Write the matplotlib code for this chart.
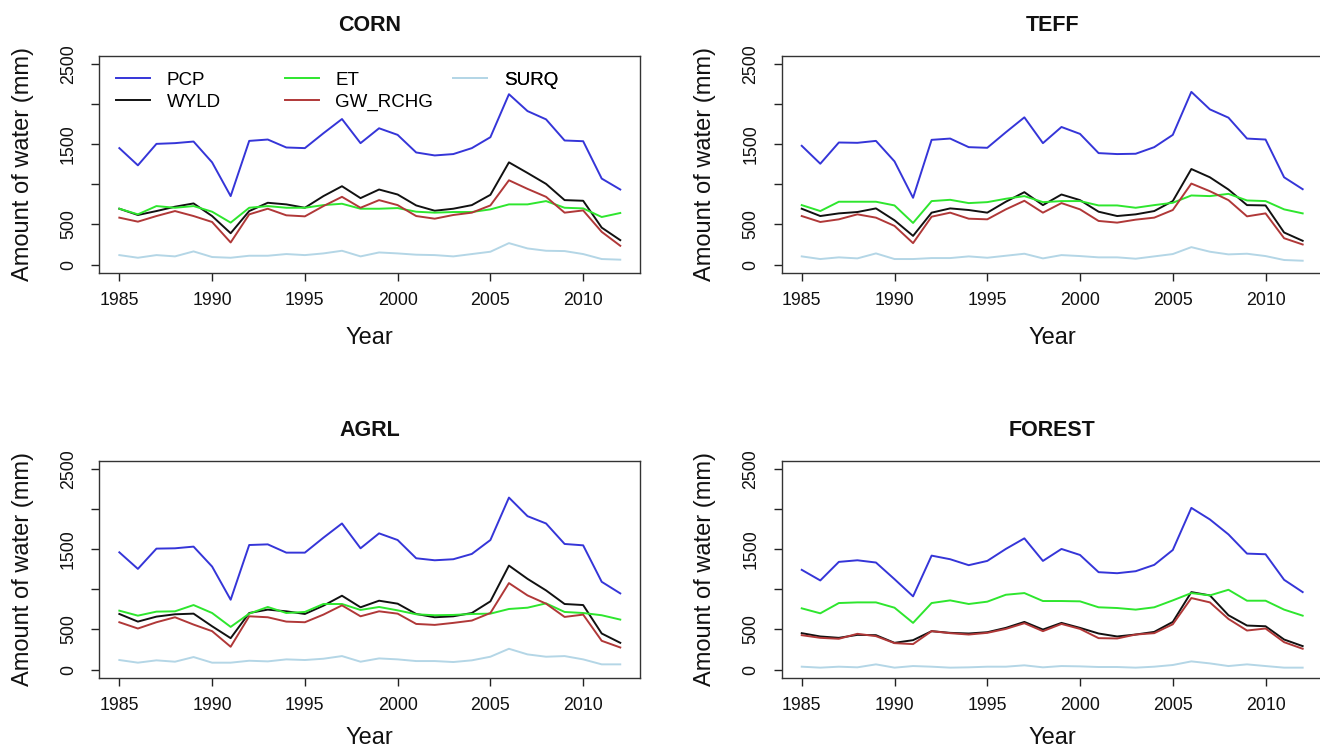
import matplotlib
matplotlib.use("Agg")
import matplotlib.pyplot as plt
from matplotlib.lines import Line2D

plt.rcParams['font.family'] = ['Liberation Sans', 'DejaVu Sans']

years = [1985, 1986, 1987, 1988, 1989, 1990, 1991, 1992, 1993, 1994,
         1995, 1996, 1997, 1998, 1999, 2000, 2001, 2002, 2003, 2004,
         2005, 2006, 2007, 2008, 2009, 2010, 2011, 2012]

series_names = ["PCP", "WYLD", "ET", "GW_RCHG", "SURQ"]
series_colors = ["#3535d8", "#111111", "#2ee62e", "#b03838", "#b4d6e6"]
panel_titles = ["CORN", "TEFF", "AGRL", "FOREST"]
y_ticks = [0, 500, 1000, 1500, 2000, 2500]
y_tick_labels = ["0", "500", "", "1500", "", "2500"]
x_ticks = [1985, 1990, 1995, 2000, 2005, 2010]

corn_pcp = [1450, 1236, 1503, 1512, 1532, 1273, 853, 1540, 1557, 1458,
            1450, 1635, 1812, 1512, 1697, 1615, 1396, 1359, 1376, 1450,
            1586, 2121, 1911, 1808, 1545, 1536, 1071, 935]
corn_wyld = [696, 618, 667, 721, 762, 605, 391, 667, 770, 750,
             708, 853, 976, 828, 935, 873, 737, 671, 696, 741,
             869, 1273, 1141, 1005, 803, 795, 461, 305]
corn_et = [696, 626, 729, 708, 729, 659, 523, 708, 729, 708,
           708, 741, 758, 696, 696, 704, 659, 647, 655, 655,
           688, 750, 750, 791, 708, 700, 593, 643]
corn_gw = [585, 535, 605, 667, 605, 531, 276, 626, 696, 614,
           601, 729, 844, 708, 803, 741, 605, 572, 618, 647,
           737, 1050, 943, 844, 647, 675, 408, 235]
corn_surq = [119, 86, 119, 103, 165, 95, 86, 111, 111, 132,
             119, 140, 173, 103, 152, 140, 124, 119, 103, 132,
             161, 268, 202, 173, 169, 132, 70, 62]

teff_pcp = [1479, 1256, 1520, 1516, 1540, 1285, 832, 1553, 1569, 1462,
            1454, 1647, 1833, 1512, 1713, 1627, 1388, 1376, 1380, 1462,
            1615, 2150, 1932, 1829, 1569, 1557, 1087, 939]
teff_wyld = [696, 605, 638, 655, 700, 552, 358, 647, 700, 680,
             647, 783, 902, 741, 873, 803, 659, 605, 626, 667,
             791, 1190, 1087, 935, 741, 737, 400, 297]
teff_et = [741, 667, 783, 783, 783, 737, 519, 791, 807, 766,
           778, 820, 853, 778, 791, 791, 737, 737, 708, 741,
           770, 861, 853, 881, 799, 791, 688, 638]
teff_gw = [605, 531, 564, 626, 585, 482, 268, 597, 647, 572,
           564, 688, 795, 647, 766, 688, 544, 523, 560, 585,
           680, 1009, 914, 803, 601, 638, 329, 251]
teff_surq = [103, 70, 91, 78, 140, 70, 70, 82, 82, 103,
             86, 111, 136, 78, 119, 107, 91, 91, 74, 103,
             132, 218, 161, 128, 136, 107, 58, 49]

agrl_pcp = [1460, 1254, 1506, 1510, 1531, 1283, 870, 1551, 1559, 1456,
            1456, 1642, 1819, 1510, 1696, 1613, 1386, 1361, 1374, 1440,
            1613, 2141, 1910, 1819, 1564, 1547, 1093, 949]
agrl_wyld = [693, 598, 660, 689, 697, 540, 392, 705, 747, 726,
             693, 796, 920, 776, 858, 821, 693, 652, 664, 705,
             850, 1295, 1130, 986, 817, 804, 450, 334]
agrl_et = [734, 672, 722, 726, 804, 705, 532, 697, 780, 705,
           718, 817, 817, 743, 780, 738, 689, 677, 681, 693,
           697, 755, 771, 825, 718, 705, 677, 623]
agrl_gw = [590, 512, 590, 652, 561, 479, 285, 664, 652, 598,
           590, 685, 800, 664, 726, 697, 569, 557, 582, 611,
           705, 1077, 924, 821, 656, 685, 359, 276]
agrl_surq = [120, 87, 116, 99, 157, 87, 87, 111, 103, 128,
             120, 136, 169, 99, 140, 128, 107, 107, 95, 116,
             161, 260, 190, 161, 169, 128, 66, 66]

forest_pcp = [1242, 1110, 1341, 1361, 1333, 1126, 912, 1419, 1374, 1300,
              1353, 1502, 1634, 1353, 1502, 1427, 1213, 1200, 1225, 1304,
              1489, 2013, 1869, 1683, 1444, 1436, 1118, 965]
forest_wyld = [454, 413, 396, 433, 429, 334, 367, 479, 458, 450,
               466, 520, 594, 499, 582, 520, 450, 413, 437, 470,
               594, 965, 924, 677, 549, 540, 375, 293]
forest_et = [763, 701, 829, 837, 837, 771, 582, 829, 862, 817,
             846, 932, 953, 854, 854, 850, 776, 767, 747, 776,
             862, 953, 924, 994, 858, 858, 747, 672]
forest_gw = [429, 396, 384, 446, 417, 330, 318, 479, 454, 437,
             458, 507, 578, 479, 569, 507, 392, 388, 437, 454,
             565, 891, 837, 631, 487, 512, 342, 260]
forest_surq = [37, 25, 37, 29, 66, 25, 45, 37, 25, 29,
               37, 37, 54, 29, 45, 41, 33, 33, 25, 37,
               58, 103, 78, 45, 66, 45, 25, 25]

panels = [
    [corn_pcp, corn_wyld, corn_et, corn_gw, corn_surq],
    [teff_pcp, teff_wyld, teff_et, teff_gw, teff_surq],
    [agrl_pcp, agrl_wyld, agrl_et, agrl_gw, agrl_surq],
    [forest_pcp, forest_wyld, forest_et, forest_gw, forest_surq],
]

W, H = 1320, 750
fig = plt.figure(figsize=(W / 100, H / 100), dpi=100)

# axes boxes in pixels: (left, top, width, height)
boxes = [(99.3, 55.7, 541.0, 217.0), (781.7, 55.7, 541.0, 217.0),
         (99.3, 460.7, 541.0, 217.0), (781.7, 460.7, 541.0, 217.0)]
xlabel_pads = [13, 13, 9, 9]

axes = []
for (l, t, w, h), title, data, xpad in zip(boxes, panel_titles, panels, xlabel_pads):
    ax = fig.add_axes([l / W, 1 - (t + h) / H, w / W, h / H])
    axes.append(ax)
    for vals, name, col in zip(data, series_names, series_colors):
        ax.plot(years, vals, color=col, lw=1.4, label=name)
    ax.set_xlim(1983.92, 2013.08)
    ax.set_ylim(-100, 2600)
    ax.set_xticks(x_ticks)
    ax.set_xticklabels([str(x) for x in x_ticks])
    ax.set_yticks(y_ticks)
    ax.set_yticklabels(y_tick_labels, rotation=90, va='center')
    ax.tick_params(axis='both', direction='out', length=6, width=1.0,
                   colors='#222222', labelsize=12.8, labelcolor='#111111')
    ax.tick_params(axis='x', pad=8)
    ax.tick_params(axis='y', pad=10)
    for sp in ax.spines.values():
        sp.set_linewidth(1.0)
        sp.set_color('#333333')
    ax.set_title(title, fontsize=15.5, fontweight='bold', pad=18, color='#111111')
    ax.set_xlabel("Year", fontsize=17, labelpad=xpad, color='#111111')
    ax.set_ylabel("Amount of water (mm)", fontsize=17, labelpad=19, color='#111111')

# legend in CORN panel: three columns placed like the original
ax0 = axes[0]
handles = [Line2D([], [], color=c, lw=1.4) for c in series_colors]
col_groups = [[0, 1], [2, 3], [4]]
col_x = [0.031, 0.343, 0.654]
col_y = [0.837, 0.837, 0.888]
for grp, x, y in zip(col_groups, col_x, col_y):
    leg = ax0.legend([handles[i] for i in grp], [series_names[i] for i in grp],
                     loc='center left', bbox_to_anchor=(x, y), frameon=False,
                     fontsize=13.5, handlelength=1.8, handletextpad=0.9,
                     labelspacing=0.25, borderpad=0, borderaxespad=0)
    ax0.add_artist(leg)

fig.savefig("out.png", dpi=100, facecolor='white')
